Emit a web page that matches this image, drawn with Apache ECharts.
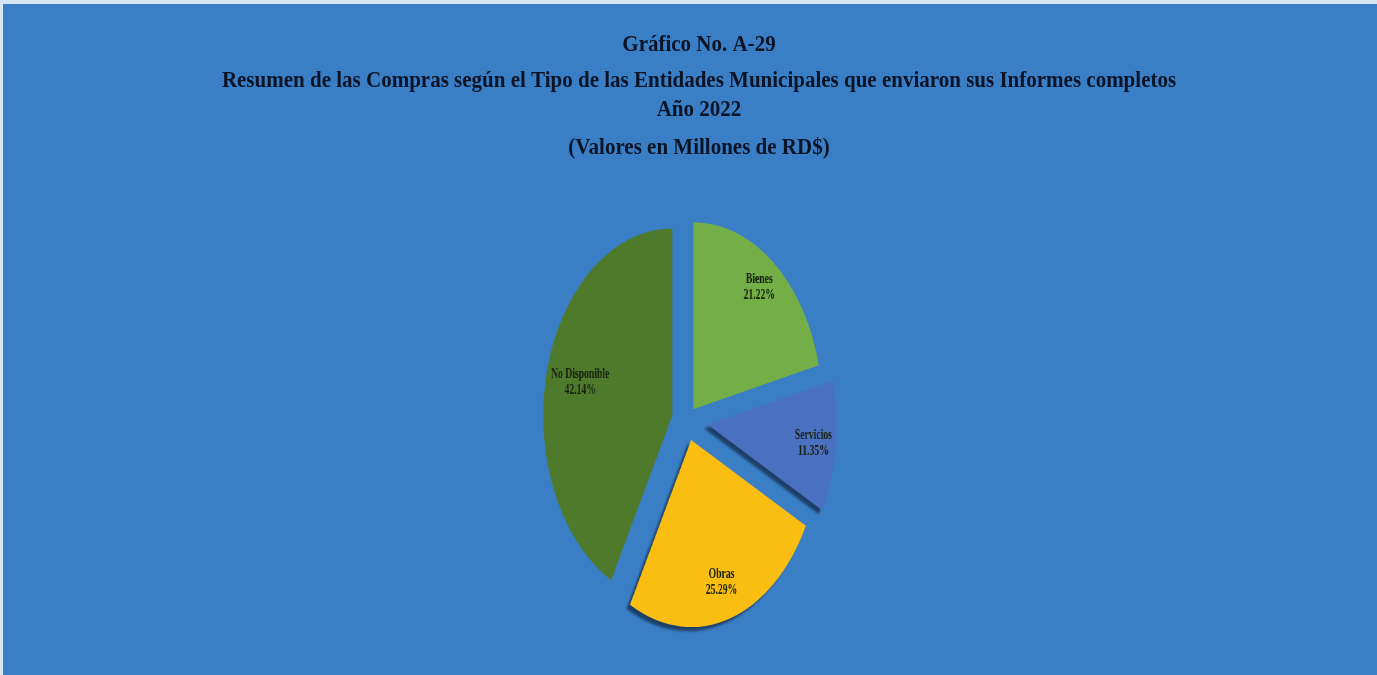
<!DOCTYPE html>
<html><head><meta charset="utf-8">
<script src="https://cdn.jsdelivr.net/npm/echarts@6/dist/echarts.min.js"></script>
<style>
html,body{margin:0;padding:0;width:1377px;height:675px;overflow:hidden;background:#d6e4f3;}
#bg{position:absolute;left:3px;top:4px;width:1374px;height:671px;background:#3a7fc6;}
#main{position:absolute;left:0;top:0;width:1377px;height:675px;}
#pie{position:absolute;left:0;top:0;width:1377px;height:675px;transform-origin:687px 421px;transform:scaleX(0.69);}
</style></head><body>
<div id="bg"></div><div id="main"></div><div id="pie"></div>
<script>
// ---- data ----
const titleLines = [
  'Gráfico No. A-29',
  'Resumen de las Compras según el Tipo de las Entidades Municipales que enviaron sus Informes completos',
  'Año 2022',
  '(Valores en Millones de RD$)'
];
const categories = ['Bienes', 'Servicios', 'Obras', 'No Disponible'];
const shares = [21.22, 11.35, 25.29, 42.14];
const colors = ['#74ae46', '#4a71c0', '#fabd12', '#4f7a2b'];
const explode = [15, 30, 20, 22];
const labelInner = [0.62, 0.62, 0.56, 0.44];
const shadowOn = [false, true, true, false];

// ---- title chart ----
const titleCenters = [45, 81, 110, 148];
const mainChart = echarts.init(document.getElementById('main'), null, {renderer: 'canvas'});
mainChart.setOption({
  animation: false,
  backgroundColor: 'transparent',
  graphic: titleLines.map((t, i) => ({
    type: 'text', x: 699, y: titleCenters[i], scaleX: 0.875, silent: true,
    style: {
      text: t, align: 'center', verticalAlign: 'middle',
      fontFamily: 'Liberation Serif', fontWeight: 'bold', fontSize: 24, fill: '#0a1426'
    }
  }))
});

// ---- pie chart (scaled horizontally via CSS for elliptical look) ----
const cx = 687, cy = 421, R = 187;
const total = shares.reduce((a, b) => a + b, 0);
const series = [];
let cum = 0;
shares.forEach((v, i) => {
  const mid = (cum + v / 2) / total * 2 * Math.PI;
  cum += v;
  const c = [cx + Math.sin(mid) * explode[i], cy - Math.cos(mid) * explode[i]];
  series.push({
    type: 'pie', center: c, radius: R, startAngle: 90, clockwise: true,
    silent: true, animation: false, z: 2,
    label: {show: false}, labelLine: {show: false},
    data: shares.map((s, j) => ({
      value: s, name: categories[j],
      itemStyle: j === i
        ? (shadowOn[i]
            ? {color: colors[i], borderWidth: 0, shadowColor: 'rgba(10,20,40,0.6)', shadowBlur: 3, shadowOffsetX: -5, shadowOffsetY: 4}
            : {color: colors[i], borderWidth: 0})
        : {color: 'rgba(0,0,0,0)', borderWidth: 0}
    }))
  });
  series.push({
    type: 'pie', center: c, radius: [R * labelInner[i], R], startAngle: 90, clockwise: true,
    silent: true, animation: false, z: 3,
    labelLine: {show: false},
    data: shares.map((s, j) => ({
      value: s, name: categories[j],
      itemStyle: {color: 'rgba(0,0,0,0)', borderWidth: 0},
      label: j === i ? {
        show: true, position: 'inside',
        formatter: categories[j] + '\n' + s.toFixed(2) + '%',
        fontFamily: 'Liberation Serif', fontWeight: 'bold', fontSize: 14, lineHeight: 16,
        color: '#17210f'
      } : {show: false}
    }))
  });
});
const pieChart = echarts.init(document.getElementById('pie'), null, {renderer: 'canvas'});
pieChart.setOption({animation: false, backgroundColor: 'transparent', series: series});
</script>
</body></html>
